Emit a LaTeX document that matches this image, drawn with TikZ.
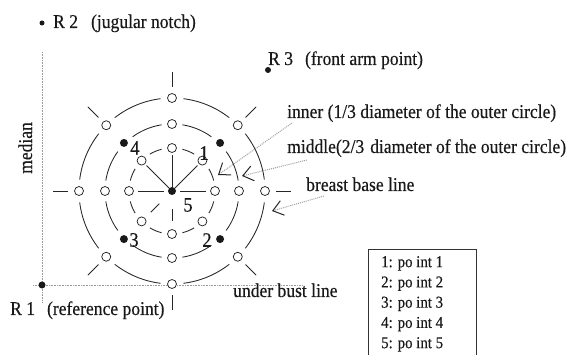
\documentclass[tikz,border=0pt]{standalone}
\usepackage{fontspec}
\setmainfont{Liberation Serif}
\newfontfamily\lblfont{Liberation Serif}[FakeStretch=0.9, FakeBold=0.4]
\usetikzlibrary{arrows.meta}
\begin{document}
\begin{tikzpicture}[x=1pt,y=-1pt,
  lbl/.style={font=\lblfont\fontsize{19.5}{22}\selectfont, inner sep=0pt, text=black!90},
  num/.style={font=\lblfont\fontsize{20.5}{22}\selectfont, inner sep=0pt, text=black!90},
  ring/.style={line width=0.85pt, draw=black!85},
  axisline/.style={line width=0.9pt, draw=gray!80, dash pattern=on 1pt off 0.6pt},
  opendot/.style={circle, draw=black!85, fill=white, line width=0.75pt, minimum size=9pt, inner sep=0pt},
  fulldot/.style={circle, fill=black!90, minimum size=8pt, inner sep=0pt},
  pointer/.style={draw=gray!75, line width=1pt, dash pattern=on 1pt off 1pt,
    -{Straight Barb[length=10pt,width=15pt,line width=1pt,color=black!85]}},
]
\useasboundingbox (0,0) rectangle (568,355);

% axes
\coordinate (vtop) at (42,52);
\coordinate (vbot) at (42,303);
\coordinate (hleft) at (33,285);
\coordinate (hright) at (303,285);
\draw[axisline] (vtop) -- (vbot);
\draw[axisline] (hleft) -- (hright);

\coordinate (C) at (172,191);

% rings (arcs between marked points)
\foreach \k in {0,...,7}{
  \draw[ring] ([shift={(45*\k+7:93pt)}]C) arc[start angle=45*\k+7, end angle=45*\k+38, radius=93pt];
  \draw[ring] ([shift={(45*\k+9:67pt)}]C) arc[start angle=45*\k+9, end angle=45*\k+36, radius=67pt];
  \draw[ring] ([shift={(45*\k+14:43pt)}]C) arc[start angle=45*\k+14, end angle=45*\k+31, radius=43pt];
}

% outer ticks
\foreach \a in {0,45,...,315}
  \draw[ring] ([shift={(\a:104pt)}]C) -- ([shift={(\a:119pt)}]C);

% spokes
\foreach \a in {45,90,135}
  \draw[ring] ([shift={(\a:4pt)}]C) -- ([shift={(\a:36pt)}]C);
\foreach \a in {0,180}
  \draw[ring] ([shift={(\a:8pt)}]C) -- ([shift={(\a:34pt)}]C);
\foreach \a in {225,270}
  \draw[ring] ([shift={(\a:18pt)}]C) -- ([shift={(\a:30pt)}]C);

% marked points
\foreach \a in {0,45,...,315}{
  \node[opendot] (out\a) at ([shift={(\a:93pt)}]C) {};
  \node[opendot] (in\a) at ([shift={(\a:43pt)}]C) {};
}
\foreach \a in {0,90,180,270}
  \node[opendot] (mid\a) at ([shift={(\a:67pt)}]C) {};
\node[fulldot] (p1) at ([shift={(45:68pt)}]C) {};
\node[fulldot] (p4) at ([shift={(135:68pt)}]C) {};
\node[fulldot] (p3) at ([shift={(225:68pt)}]C) {};
\node[fulldot] (p2) at ([shift={(315:68pt)}]C) {};
\node[fulldot] (p5) at (C) {};

% point numbers
\node[num] (n1) at (204,153) {1};
\node[num] (n2) at (207,240) {2};
\node[num] (n3) at (134,240) {3};
\node[num] (n4) at (135,148) {4};
\node[num] (n5) at (188,205) {5};

% reference points
\node[fulldot, minimum size=5pt] (R2) at (42,23) {};
\node[lbl, anchor=base west] (r2t) at (53,28) {R 2\hspace{13pt}(jugular notch)};
\node[fulldot, minimum size=6pt] (R3) at (268,70) {};
\node[lbl, anchor=base west] (r3t) at (268,65) {R 3\hspace{12pt}(front arm point)};
\node[fulldot, minimum size=7pt] (R1) at (42,285) {};
\node[lbl, anchor=base west] (r1t) at (10,315) {R 1\hspace{12pt}(reference point)};

\node[lbl, anchor=base west] (ubl) at (233,297) {under bust line};
\node[lbl, rotate=90, anchor=base] (med) at (32,148) {median};

% right labels and pointers
\node[lbl, anchor=base west] (inner) at (287,118) {inner (1/3 diameter of the outer circle)};
\node[lbl, anchor=base west] (middle) at (287,153) {middle(2/3\hspace{6pt}diameter of the outer circle)};
\node[lbl, anchor=base west] (bbl) at (306,191) {breast base line};

\coordinate (ia) at (292,123); \coordinate (it) at (218,175);
\coordinate (ma) at (307,160); \coordinate (mt) at (242,176);
\coordinate (ba) at (324,196); \coordinate (bt) at (272,211);
\draw[pointer] (ia) -- (it);
\draw[pointer] (ma) -- (mt);
\draw[pointer] (ba) -- (bt);

% legend
\node[draw=black!80, line width=0.7pt, minimum width=108pt, minimum height=108pt, anchor=north west, inner sep=0pt] (legend) at (368,249) {};
\node[anchor=north west, inner sep=0pt, align=left, font=\lblfont\fontsize{16.5}{20.25}\selectfont, text=black!90] (legtext) at (381,256) {1: po int 1\\2: po int 2\\3: po int 3\\4: po int 4\\5: po int 5};
\end{tikzpicture}
\end{document}
